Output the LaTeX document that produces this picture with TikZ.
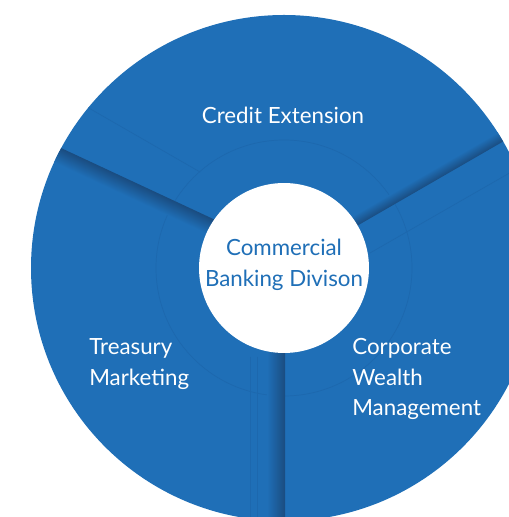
\documentclass[tikz,border=0pt]{standalone}
\usepackage{fontspec}
\setmainfont{Lato}
\definecolor{segblue}{RGB}{31,111,183}
\definecolor{segdark}{RGB}{26,76,128}
\definecolor{segline}{RGB}{29,104,174}
\begin{document}
\begin{tikzpicture}[x=0.02cm,y=0.02cm,
  seglabel/.style={text=white,inner sep=0pt,align=left,font=\fontsize{12.7}{17.6}\selectfont},
  hub/.style={circle,fill=white,minimum size=3.4cm,inner sep=0pt},
  hubtext/.style={text=segblue,inner sep=0pt,align=center,font=\fontsize{12.7}{17.6}\selectfont},
  faint/.style={segline,line width=0.4pt}]
  \useasboundingbox (0,0) rectangle (509,517);
  \coordinate (ctr) at (284,249);
  \begin{scope}
    \clip (0,0) rectangle (509,517);
    \fill[segblue] (ctr) circle (253);
    \clip (ctr) circle (253);
    \draw[faint] (ctr) circle (128);
    \draw[faint] (87,410) -- (200,345);
    \draw[faint] (370,264) -- (520,350);
    \draw[faint] (250,160) -- (250,-5);
    \draw[faint] (257,160) -- (257,-5);
    \begin{scope}[transform canvas={rotate around={30:(ctr)}}]
      \shade[top color=segblue, bottom color=segdark] (284,249) rectangle (560,260);
    \end{scope}
    \begin{scope}[transform canvas={rotate around={155:(284,265)}}]
      \shade[top color=segblue, bottom color=segdark] (284,265) rectangle (560,281);
    \end{scope}
    \shade[left color=segblue, right color=segdark] (267,-5) rectangle (285,249);
  \end{scope}
  \node[hub] (hub) at (ctr) {};
  \node[hubtext] (title) at (284,252) {Commercial\\Banking Divison};
  \node[seglabel] (credit) at (283,402) {Credit Extension};
  \node[seglabel,anchor=west] (treasury) at (89,153) {Treasury\\Marketing};
  \node[seglabel,anchor=west] (corporate) at (352,138) {Corporate\\Wealth\\Management};
\end{tikzpicture}
\end{document}
